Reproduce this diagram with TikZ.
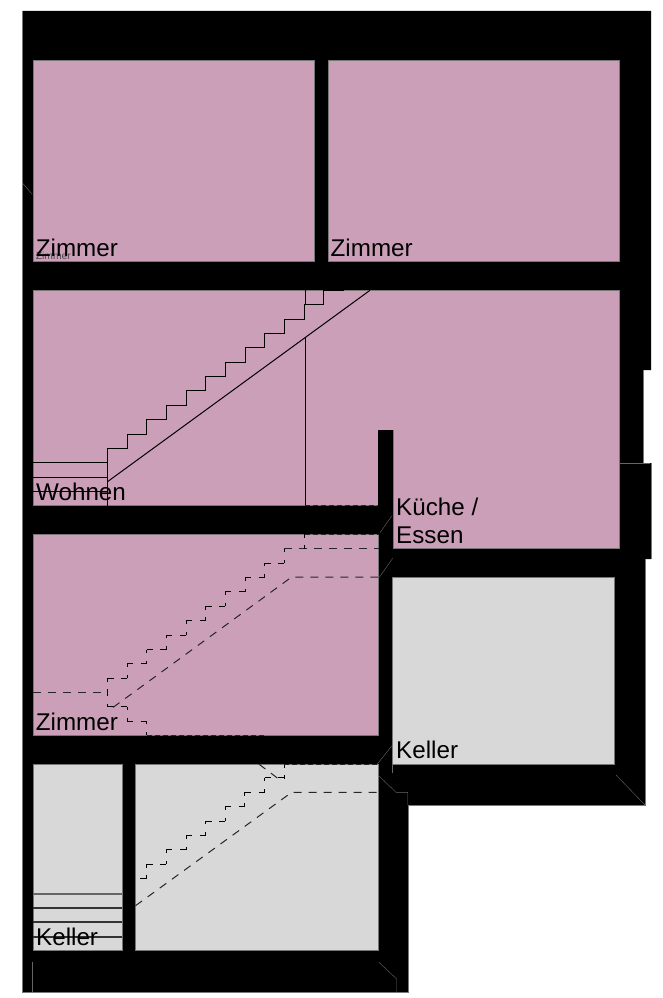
\documentclass[tikz,border=0pt]{standalone}
\usepackage{fontspec}
\setmainfont{Liberation Sans}
\definecolor{wallc}{HTML}{000000}
\definecolor{pinkroom}{HTML}{CC9FB9}
\definecolor{greyroom}{HTML}{D8D8D8}
\definecolor{edgec}{HTML}{777777}
\tikzset{
  room/.style={draw=edgec,line width=0.6pt},
  pinkfill/.style={room,fill=pinkroom},
  greyfill/.style={room,fill=greyroom},
  solidstair/.style={draw=black,line width=1pt},
  longdash/.style={draw=black!85,line width=1pt,dash pattern=on 8pt off 7pt},
  shortdash/.style={draw=black!85,line width=1pt,dash pattern=on 5pt off 3pt},
  hdash/.style={draw=black,line width=1pt,dash pattern=on 6pt off 7.65pt},
  vdash/.style={draw=black,line width=1pt,dash pattern=on 3.3pt off 7.8pt},
  faint/.style={draw=black!60,line width=0.4pt},
  roomlabel/.style={anchor=base west,inner sep=0pt,font=\fontsize{24.2pt}{26pt}\selectfont,text=black},
  tinylabel/.style={anchor=base west,inner sep=0pt,font=\fontsize{10.3pt}{12pt}\selectfont,text=black!70}
}
\begin{document}
\begin{tikzpicture}[x=1pt,y=-1pt]
\path[use as bounding box,fill=white] (0,0) rectangle (662,998);
% building silhouette
\fill[wallc] (22.3,11) -- (651,11) -- (651,370) -- (643.4,370) -- (643.4,463) -- (651,463)
  -- (651,559) -- (645,559) -- (645,805) -- (408.2,805) -- (408.2,992.3) -- (22.3,992.3) -- cycle;
\draw[edgec,line width=0.4pt] (643.4,370) -- (643.4,463) (651,463) -- (651,559) (645,559) -- (645,805) -- (408.2,805) -- (408.2,992.3) -- (22.3,992.3) -- (22.3,11);
% rooms
\path[pinkfill] (33.3,60.3) rectangle (314,261);
\path[pinkfill] (328,60.3) rectangle (619.3,261);
\path[pinkfill] (33.3,290.3) -- (619.3,290.3) -- (619.3,548.7) -- (393.3,548.7) -- (393.3,430)
  -- (378.3,430) -- (378.3,505.7) -- (33.3,505.7) -- cycle;
\path[pinkfill] (33.3,534) rectangle (378.7,735.3);
\path[greyfill] (392,577.5) rectangle (614.3,764);
\path[greyfill] (33.3,764.2) rectangle (122,950);
\path[greyfill] (135.5,764.2) rectangle (378.3,950);
% black wall stub
\fill[wallc] (378.3,430) rectangle (393.3,510);
% upper stair (solid)
\draw[solidstair] (107.5,505.7) -- (107.5,448.3) -- (127,448.3) -- (127,434) -- (146.7,434) -- (146.7,419.3)
  -- (166.3,419.3) -- (166.3,405) -- (186,405) -- (186,390.7) -- (205.7,390.7) -- (205.7,376.3)
  -- (225.3,376.3) -- (225.3,362) -- (245,362) -- (245,347.7) -- (264.7,347.7) -- (264.7,333.3)
  -- (284.3,333.3) -- (284.3,319) -- (304,319) -- (304,304.7) -- (323.7,304.7) -- (323.7,290.3);
\draw[solidstair] (305.3,290.3) -- (305.3,304.7);
\draw[solidstair] (107.5,481.7) -- (370,290.3);
\draw[solidstair] (305.3,337.5) -- (305.3,505.7);
\draw[solidstair] (33.3,462.4) -- (107.5,462.4);
\draw[solidstair] (33.3,477) -- (107.5,477);
\draw[solidstair] (33.3,491.7) -- (107.5,491.7);
\draw[black,line width=1pt] (323.7,290.6) -- (344,290.6);
% middle flight (dashed)
\foreach \i in {0,...,8}{
  \draw[hdash] ({107.5+19.65*\i},{678.3-14.4*\i}) -- ({127.15+19.65*\i},{678.3-14.4*\i});
  \draw[vdash] ({127.15+19.65*\i},{678.3-14.4*\i}) -- ({127.15+19.65*\i},{663.9-14.4*\i});
}
\draw[vdash] (107.5,678.3) -- (107.5,692.5);
\draw[vdash] (107.5,692.5) -- (107.5,706.7);
\draw[hdash] (107.5,706.7) -- (127,706.7);
\draw[vdash] (127,706.7) -- (127,721);
\draw[hdash] (127,721) -- (146.7,721);
\draw[vdash] (146.7,721) -- (146.7,735.3);
\draw[longdash] (33.3,692.4) -- (107.5,692.4);
\draw[longdash] (113,707.4) -- (291.7,577) -- (378.5,577);
\draw[longdash] (284.3,548.7) -- (378.5,548.7);
\draw[vdash] (304.7,548.7) -- (304.7,534.3);
\draw[shortdash] (304.7,534.3) -- (378.5,534.3);
\draw[shortdash] (146.7,735.3) -- (265,735.3);
\draw[shortdash] (305.3,505.4) -- (378,505.4);
% lower flight (dashed)
\foreach \i in {0,...,6}{
  \draw[hdash] ({146.7+19.65*\i},{864.3-14.4*\i}) -- ({166.35+19.65*\i},{864.3-14.4*\i});
  \draw[vdash] ({146.7+19.65*\i},{864.3-14.4*\i}) -- ({146.7+19.65*\i},{878.7-14.4*\i});
}
\draw[vdash] (284.2,778.7) -- (284.2,764.4);
\draw[black,line width=1pt] (140,878.7) -- (146.7,878.7);
\draw[shortdash] (284.2,764.4) -- (378,764.4);
\draw[longdash] (259,764.2) -- (278,778.5);
\draw[longdash] (135.5,905.7) -- (291.7,792.3) -- (378,792.3);
% cellar stair lines
\draw[black!60,line width=1.3pt] (33.3,894) -- (122,894);
\draw[black!80,line width=1.3pt] (33.3,908) -- (122,908);
\draw[black!80,line width=1.2pt] (33.3,922) -- (122,922);
\draw[black!80,line width=1.3pt] (33.3,937) -- (122,937);
% faint lines on the walls
\draw[faint] (391.7,516) -- (380,532.7);
\draw[faint] (392.7,558.3) -- (379.3,577.3);
\draw[faint] (391.7,746) -- (377.3,764);
\draw[faint] (391.7,764) -- (391.7,773);
\draw[faint] (378,775) -- (396,792.3) -- (407.7,792.3) -- (407.7,805);
\draw[faint] (616,775) -- (645,805);
\draw[faint] (379,962.3) -- (396.7,979) -- (396.7,992);
\draw[faint] (32.3,961.7) -- (32.3,992);
\draw[faint] (22.7,183.3) -- (32.3,194.3);
\draw[faint] (620,463.2) -- (650,463.2);
% labels
\node[tinylabel] (tiny) at (35.7,259.5) {Zimmer};
\node[roomlabel] (z1) at (35.7,256.5) {Zimmer};
\node[roomlabel] (z2) at (330.5,256.5) {Zimmer};
\node[roomlabel] (w) at (36,500.3) {Wohnen};
\node[roomlabel] (k1) at (396,515.5) {Küche /};
\node[roomlabel] (k2) at (396,543.2) {Essen};
\node[roomlabel] (z3) at (35.7,730) {Zimmer};
\node[roomlabel] (kr) at (396,758.5) {Keller};
\node[roomlabel] (kl) at (36,945) {Keller};
\end{tikzpicture}
\end{document}
